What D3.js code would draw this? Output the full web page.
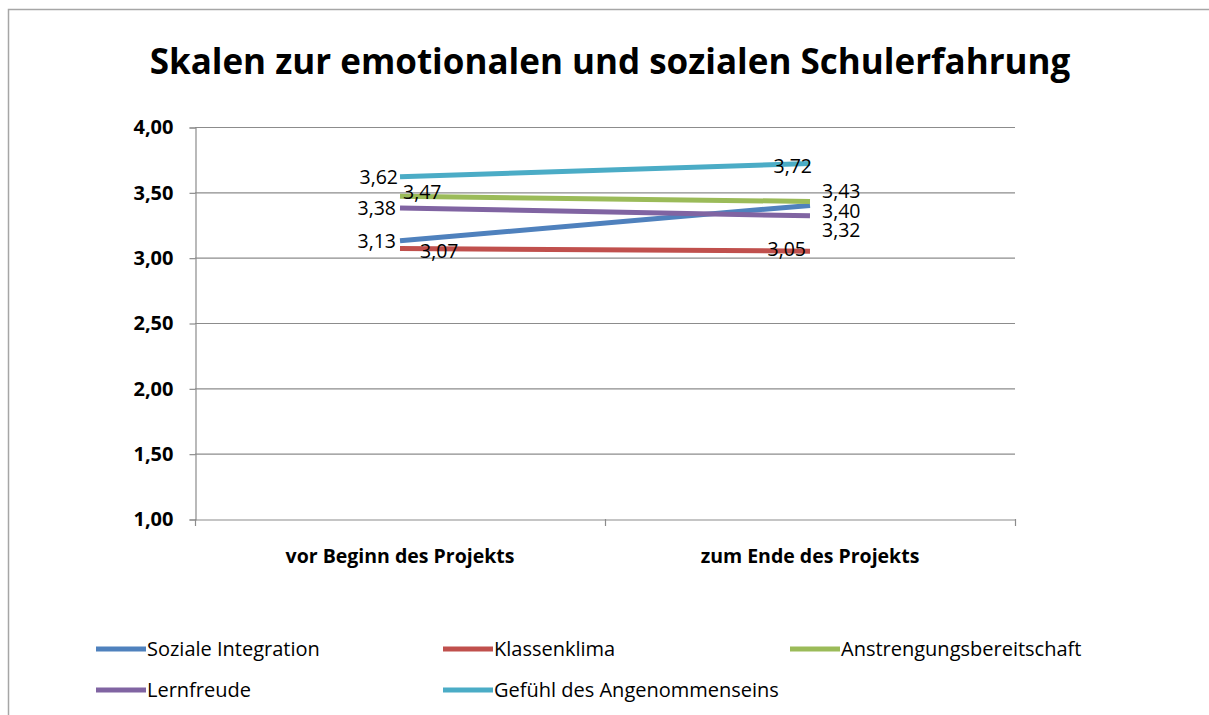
<!DOCTYPE html>
<html><head><meta charset="utf-8">
<script src="https://cdn.jsdelivr.net/npm/d3@7"></script>
<style>
html,body{margin:0;padding:0;background:#fff;}
svg{display:block;font-family:"Open Sans",sans-serif;}
</style></head>
<body>
<svg id="c" width="1209" height="715"></svg>
<script>
const title = "Skalen zur emotionalen und sozialen Schulerfahrung";
const categories = ["vor Beginn des Projekts", "zum Ende des Projekts"];
const seriesNames = ["Soziale Integration", "Klassenklima", "Anstrengungsbereitschaft", "Lernfreude", "Gefühl des Angenommenseins"];
const sozialeIntegration = [3.13, 3.40];
const klassenklima = [3.07, 3.05];
const anstrengung = [3.47, 3.43];
const lernfreude = [3.38, 3.32];
const angenommensein = [3.62, 3.72];
const yTicks = [1.0, 1.5, 2.0, 2.5, 3.0, 3.5, 4.0];

const colors = ["#4F81BD", "#C0504D", "#9BBB59", "#8064A2", "#4BACC6"];
const seriesValues = [sozialeIntegration, klassenklima, anstrengung, lernfreude, angenommensein];
// label placement offsets [dx, dy, anchor] per series per point (layout only)
const labelPlace = [
  [[-4, 0, "end"], [12, 6, "start"]],
  [[20, 3, "start"], [-4, -2, "end"]],
  [[3, -4, "start"], [12, -10, "start"]],
  [[-4, 0, "end"], [12, 14, "start"]],
  [[-2, 1, "end"], [2, 3, "end"]]
];

const svg = d3.select("#c");
const fmt = v => v.toFixed(2).replace(".", ",");
const FF = "'Open Sans',sans-serif";

// outer frame
svg.append("path").attr("d", "M8.5,716 L8.5,9.5 L1210,9.5")
  .attr("fill", "none").attr("stroke", "#a6a6a6").attr("stroke-width", 1.5);

// title
const t = svg.append("text").text(title)
  .attr("x", 610).attr("y", 74).attr("text-anchor", "middle")
  .attr("font-weight", "bold").attr("font-size", 36).attr("fill", "#000");
const tw = t.node().getComputedTextLength();
t.attr("font-size", 36 * 921 / tw);

const x = d3.scaleBand().domain(categories).range([195, 1015]);
const y = d3.scaleLinear().domain([1, 4]).range([519, 127]);

// gridlines
svg.append("g").selectAll("line").data(yTicks.filter(v => v > 1)).join("line")
  .attr("x1", 195).attr("x2", 1015)
  .attr("y1", d => y(d) + 0.5).attr("y2", d => y(d) + 0.5)
  .attr("stroke", "#8c8c8c").attr("stroke-width", 1.2);

// y axis
const yAxis = d3.axisLeft(y).tickValues(yTicks).tickFormat(fmt).tickSize(6).tickPadding(16);
const gy = svg.append("g").attr("transform", "translate(195.5,0.5)").call(yAxis);
gy.select(".domain").attr("stroke", "#8c8c8c").attr("stroke-width", 1.2);
gy.selectAll(".tick line").attr("stroke", "#8c8c8c").attr("stroke-width", 1.2);
gy.selectAll(".tick text").attr("font-size", 20).attr("font-weight", "bold")
  .attr("fill", "#000").attr("font-family", FF);

// x axis
const xAxis = d3.axisBottom(x).tickSize(0).tickPadding(30);
const gx = svg.append("g").attr("transform", "translate(0,519.5)").call(xAxis);
gx.select(".domain").attr("stroke", "#8c8c8c").attr("stroke-width", 1.2);
gx.selectAll(".tick text").attr("font-size", 19.5).attr("font-weight", "bold")
  .attr("fill", "#000").attr("font-family", FF);
// category boundary ticks
const bounds = [x.range()[0], ...categories.map(c => x(c) + x.bandwidth())];
svg.append("g").selectAll("line").data(bounds).join("line")
  .attr("x1", d => d + 0.5).attr("x2", d => d + 0.5)
  .attr("y1", 519).attr("y2", 526)
  .attr("stroke", "#8c8c8c").attr("stroke-width", 1.2);

const cx = c => x(c) + x.bandwidth() / 2;
const line = d3.line().x((d, i) => cx(categories[i])).y(d => y(d));

seriesValues.forEach((vals, s) => {
  svg.append("path").datum(vals).attr("d", line)
    .attr("fill", "none").attr("stroke", colors[s]).attr("stroke-width", 5)
    .attr("stroke-linecap", "butt");
});

seriesValues.forEach((vals, s) => {
  vals.forEach((v, i) => {
    const p = labelPlace[s][i];
    svg.append("text").text(fmt(v))
      .attr("x", cx(categories[i]) + p[0]).attr("y", y(v) + p[1])
      .attr("dy", "0.35em").attr("text-anchor", p[2])
      .attr("font-size", 19.5).attr("fill", "#000");
  });
});

// legend
const legPos = [[96, 649], [443, 649], [790, 649], [96, 690], [443, 690]];
seriesNames.forEach((n, i) => {
  const [lx, ly] = legPos[i];
  svg.append("line").attr("x1", lx).attr("x2", lx + 50).attr("y1", ly).attr("y2", ly)
    .attr("stroke", colors[i]).attr("stroke-width", 5);
  svg.append("text").text(n).attr("x", lx + 51).attr("y", ly).attr("dy", "0.35em")
    .attr("font-size", 20).attr("fill", "#000");
});
</script>
</body></html>
